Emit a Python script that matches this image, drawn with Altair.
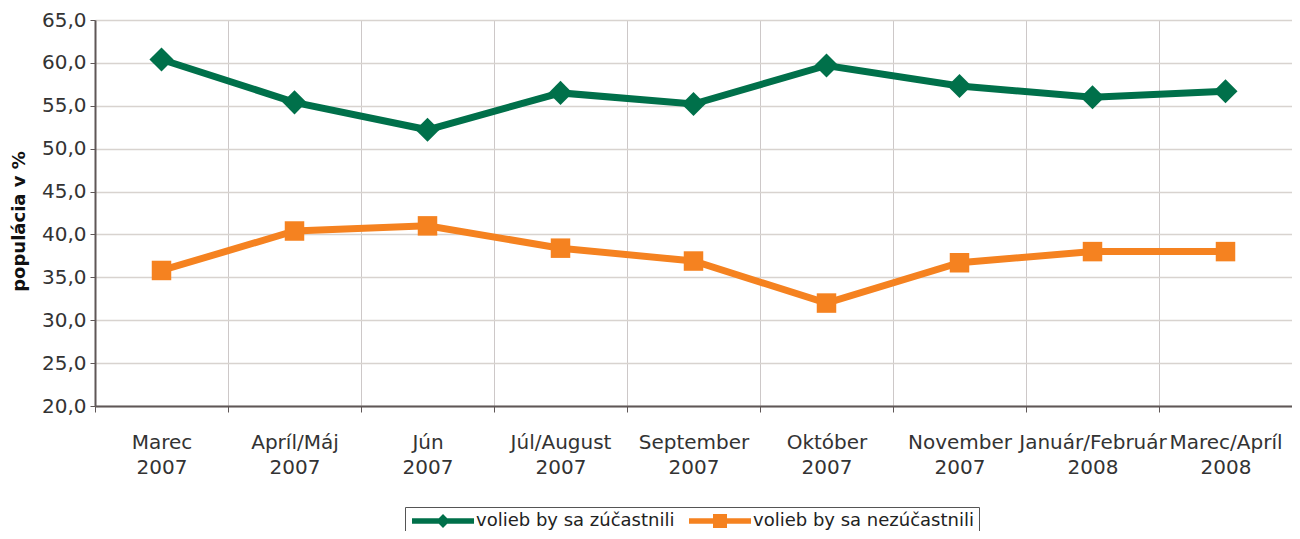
import altair as alt
import pandas as pd

months = ["Marec\n2007", "Apríl/Máj\n2007", "Jún\n2007", "Júl/August\n2007",
          "September\n2007", "Október\n2007", "November\n2007",
          "Január/Február\n2008", "Marec/Apríl\n2008"]
series_names = ["volieb by sa zúčastnili", "volieb by sa nezúčastnili"]
participate = [60.4, 55.4, 52.2, 56.5, 55.2, 59.7, 57.3, 56.0, 56.7]
not_participate = [35.8, 40.4, 41.0, 38.4, 36.9, 32.0, 36.7, 38.0, 38.0]
colors = ["#00704A", "#F58220"]
y_ticks = [20, 25, 30, 35, 40, 45, 50, 55, 60, 65]

rows = []
for name, vals in zip(series_names, [participate, not_participate]):
    for m, v in zip(months, vals):
        rows.append({"month": m, "series": name, "leg": name, "value": v})
df = pd.DataFrame(rows)

FONT = "DejaVu Sans"

x_enc = alt.X("month:N", sort=months, title=None,
              scale=alt.Scale(type="band", paddingInner=0, paddingOuter=0),
              axis=alt.Axis(labelExpr="split(datum.label, '\\n')", labelAngle=0,
                            tickBand="extent", grid=True, gridColor="#cdc8c8",
                            gridWidth=1, labelFontSize=20, labelFont=FONT,
                            labelColor="#333333", labelPadding=20, labelLineHeight=25,
                            tickSize=6, tickColor="#5f5757", domainColor="#5f5757",
                            domainWidth=2, labelLimit=0))
y_enc = alt.Y("value:Q", title="populácia v %",
              scale=alt.Scale(domain=[20, 65], nice=False, zero=False),
              axis=alt.Axis(values=y_ticks,
                            labelExpr="replace(format(datum.value, '.1f'), '.', ',')",
                            grid=True, gridColor="#d8d3cf", gridWidth=1.5,
                            labelFontSize=20, labelFont=FONT, labelColor="#333333",
                            tickSize=5, tickColor="#5f5757", domainColor="#5f5757",
                            domainWidth=2, labelPadding=4,
                            titleFont=FONT, titleFontSize=18, titleFontWeight="bold",
                            titleColor="#111111", titleX=-76, titleY=201,
                            titleAlign="center", titleBaseline="middle", titleAngle=270))

color_scale = alt.Scale(domain=series_names, range=colors)

line = alt.Chart(df).mark_line(strokeWidth=7).encode(
    x=x_enc, y=y_enc,
    color=alt.Color("series:N", scale=color_scale, legend=None),
)
points = alt.Chart(df).mark_point(filled=True, opacity=1, strokeWidth=0).encode(
    x=x_enc, y=y_enc,
    color=alt.Color("series:N", scale=color_scale, legend=None),
    shape=alt.Shape("series:N", scale=alt.Scale(domain=series_names, range=["diamond", "square"]), legend=None),
    size=alt.Size("series:N", scale=alt.Scale(domain=series_names, range=[580, 380]), legend=None),
)

# legend symbols: a line with the marker on it (units of 7 px; nominal box -1..1)
green_path = ("M-1,-0.4L2.83,-0.4L3.43,-1L4.03,-0.4L7.86,-0.4L7.86,0.4L4.03,0.4"
              "L3.43,1L2.83,0.4L-1,0.4Z")
orange_path = ("M-1,-0.4L2.43,-0.4L2.43,-1L4.43,-1L4.43,-0.4L7.86,-0.4L7.86,0.4"
               "L4.43,0.4L4.43,1L2.43,1L2.43,0.4L-1,0.4Z")

legend = alt.Legend(title=None, orient="none", legendX=310, legendY=487,
                    direction="horizontal", labelFontSize=18, labelFont=FONT,
                    labelColor="#222222", strokeColor="#555555", padding=5,
                    symbolSize=196, symbolStrokeWidth=0, symbolOpacity=1,
                    labelLimit=0, columnPadding=12, labelOffset=48)

legend_layer = alt.Chart(df).mark_point(filled=True, opacity=0).encode(
    x=x_enc, y=y_enc,
    color=alt.Color("leg:N", scale=alt.Scale(domain=series_names, range=colors), legend=legend),
    shape=alt.Shape("leg:N", scale=alt.Scale(domain=series_names, range=[green_path, orange_path]), legend=legend),
)

chart = alt.layer(line, points, legend_layer).resolve_scale(
    color="independent", shape="independent"
).properties(
    width=1197, height=386,
    autosize=alt.AutoSizeParams(type="none"),
    padding={"left": 87, "top": 12, "right": 0, "bottom": 125},
).configure_view(stroke="#8a8282", strokeWidth=2).configure(background="white")

chart.save("out.html", embed_options={"renderer": "svg", "actions": False})
